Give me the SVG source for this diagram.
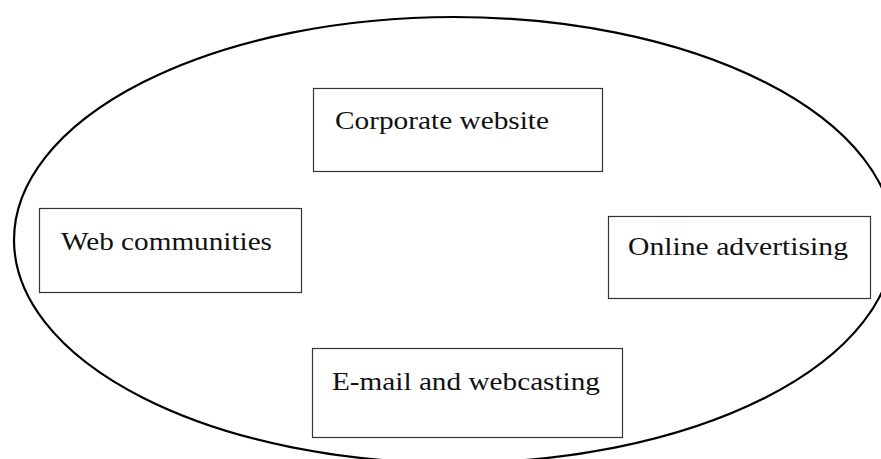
<svg xmlns="http://www.w3.org/2000/svg" width="881" height="459" viewBox="0 0 881 459">
<style>
.box{fill:#fff;stroke:#333;stroke-width:1.2}
.lbl{font-family:"Liberation Serif","Times New Roman",serif;font-size:26px;fill:#111}
.outline{fill:none;stroke:#000;stroke-width:2.2}
</style>
<rect width="881" height="459" fill="#fff"/>
<g id="boundary">
<ellipse class="outline" cx="454" cy="240" rx="440" ry="223"/>
</g>
<g id="connectors"></g>
<g id="node-corporate">
<rect class="box" x="313.5" y="88.5" width="289" height="83"/>
<text class="lbl" x="335" y="129" textLength="214" lengthAdjust="spacingAndGlyphs">Corporate website</text>
</g>
<g id="node-web">
<rect class="box" x="39.5" y="208.5" width="262" height="84"/>
<text class="lbl" x="61" y="250" textLength="211" lengthAdjust="spacingAndGlyphs">Web communities</text>
</g>
<g id="node-online">
<rect class="box" x="608.5" y="216.5" width="262" height="82"/>
<text class="lbl" x="628" y="255" textLength="220" lengthAdjust="spacingAndGlyphs">Online advertising</text>
</g>
<g id="node-email">
<rect class="box" x="312.5" y="348.5" width="310" height="89"/>
<text class="lbl" x="332" y="390" textLength="268" lengthAdjust="spacingAndGlyphs">E-mail and webcasting</text>
</g>
</svg>
